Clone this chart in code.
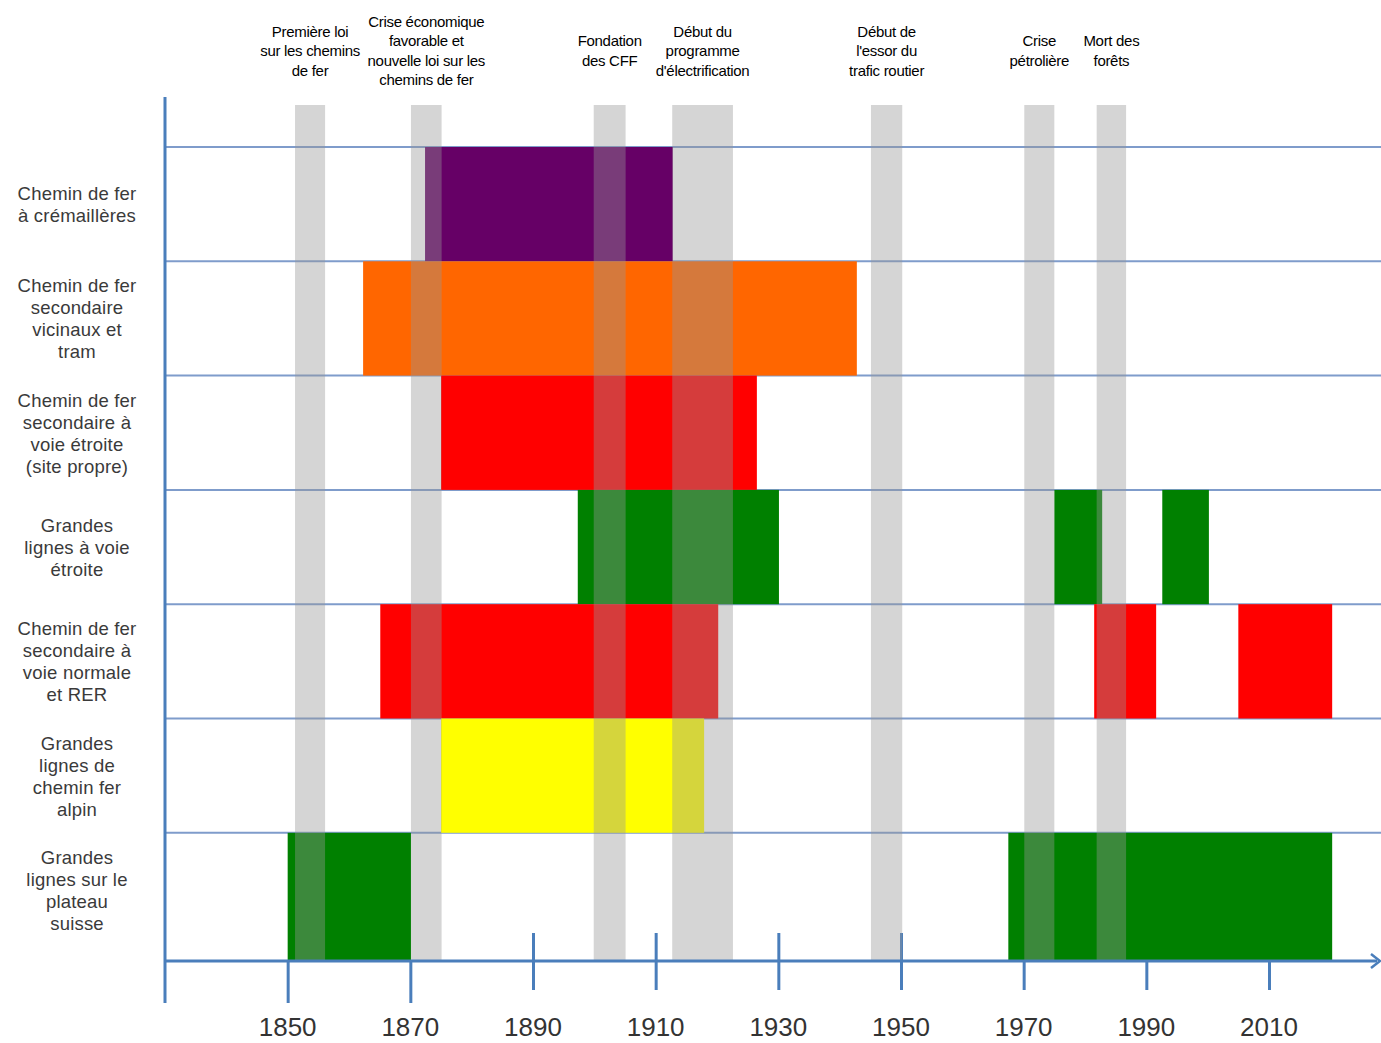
<!DOCTYPE html>
<html>
<head>
<meta charset="utf-8">
<script src="https://cdn.jsdelivr.net/npm/d3@7"></script>
<style>
  body { margin: 0; background: #fff; }
  svg { display: block; }
</style>
</head>
<body>
<div id="chart"></div>
<script>
// rows (top to bottom) and their colour
const rowLabels = [
  ['Chemin de fer', 'à crémaillères'],
  ['Chemin de fer', 'secondaire', 'vicinaux et', 'tram'],
  ['Chemin de fer', 'secondaire à', 'voie étroite', '(site propre)'],
  ['Grandes', 'lignes à voie', 'étroite'],
  ['Chemin de fer', 'secondaire à', 'voie normale', 'et RER'],
  ['Grandes', 'lignes de', 'chemin  fer', 'alpin'],
  ['Grandes', 'lignes sur le', 'plateau', 'suisse']
]
const rowColors = ['#660066', '#ff6600', '#ff0000', '#008000', '#ff0000', '#ffff00', '#008000']

// periods of activity: row index, start year, end year
const periodRow = [0, 1, 2, 3, 3, 3, 4, 4, 4, 5, 6, 6]
const periodStart = [1872.4, 1862.3, 1875.0, 1897.3, 1975.0, 1992.6, 1865.1, 1981.5, 2005.0, 1875.0, 1850.0, 1967.5]
const periodEnd = [1912.8, 1942.8, 1926.5, 1930.1, 1982.8, 2000.2, 1920.2, 1991.6, 2020.3, 1917.9, 1870.1, 2020.3]

// events (grey bands)
const eventLabels = [
  ['Première loi', 'sur les chemins', 'de fer'],
  ['Crise économique', 'favorable et', 'nouvelle loi sur les', 'chemins de fer'],
  ['Fondation', 'des CFF'],
  ['Début du', 'programme', "d'électrification"],
  ['Début de', "l'essor du", 'trafic routier'],
  ['Crise', 'pétrolière'],
  ['Mort des', 'forêts']
]
const eventStart = [1851.2, 1870.1, 1899.9, 1912.7, 1945.1, 1970.1, 1981.9]
const eventEnd = [1856.1, 1875.1, 1905.1, 1922.6, 1950.2, 1975.0, 1986.7]

// x axis ticks
const longTicks = [1850, 1870]
const shortTicks = [1890, 1910, 1930, 1950, 1970, 1990, 2010]

const width = 1381
const height = 1043
const axisColor = '#4a7ebb'

const svg = d3
  .select('#chart')
  .append('svg')
  .attr('width', width)
  .attr('height', height)

const xPositionScale = d3
  .scaleLinear()
  .domain([1830, 2010])
  .range([165, 1269])

const axisY = 961
const yPositionScale = d3
  .scaleBand()
  .domain(d3.range(rowLabels.length))
  .range([147, 147 + 7 * 114.3])

function rowTop(i) {
  return yPositionScale(i)
}
function rowBottom(i) {
  return i === rowLabels.length - 1 ? axisY : yPositionScale(i) + yPositionScale.bandwidth()
}

// horizontal row lines
svg
  .selectAll('.row-line')
  .data(d3.range(rowLabels.length))
  .enter()
  .append('line')
  .attr('class', 'row-line')
  .attr('x1', xPositionScale(1830))
  .attr('x2', width)
  .attr('y1', d => rowTop(d))
  .attr('y2', d => rowTop(d))
  .attr('stroke', '#7f9ccb')
  .attr('stroke-width', 2)

// ticks (drawn under the bars)
const longAxis = d3
  .axisBottom(xPositionScale)
  .tickValues(longTicks)
  .tickSize(42)
  .tickFormat('')
svg
  .append('g')
  .attr('class', 'axis long-ticks')
  .attr('transform', 'translate(0,' + axisY + ')')
  .call(longAxis)

const shortAxis = d3
  .axisBottom(xPositionScale)
  .tickValues(shortTicks)
  .tickSize(29)
  .tickFormat('')
svg
  .append('g')
  .attr('class', 'axis short-ticks')
  .attr('transform', 'translate(0,' + axisY + ')')
  .call(shortAxis)
svg.selectAll('.short-ticks line').attr('y1', -28)

svg.selectAll('.axis path').remove()
svg
  .selectAll('.axis line')
  .attr('stroke', axisColor)
  .attr('stroke-width', 3)

// bars
svg
  .selectAll('.period')
  .data(d3.range(periodRow.length))
  .enter()
  .append('rect')
  .attr('class', 'period')
  .attr('x', i => xPositionScale(periodStart[i]))
  .attr('width', i => xPositionScale(periodEnd[i]) - xPositionScale(periodStart[i]))
  .attr('y', i => rowTop(periodRow[i]))
  .attr('height', i => rowBottom(periodRow[i]) - rowTop(periodRow[i]))
  .attr('fill', i => rowColors[periodRow[i]])

// grey event bands on top
svg
  .selectAll('.event')
  .data(d3.range(eventStart.length))
  .enter()
  .append('rect')
  .attr('class', 'event')
  .attr('x', i => xPositionScale(eventStart[i]))
  .attr('width', i => xPositionScale(eventEnd[i]) - xPositionScale(eventStart[i]))
  .attr('y', 105)
  .attr('height', axisY - 105)
  .attr('fill', '#969696')
  .attr('fill-opacity', 0.4)

// event labels
const eventText = svg
  .selectAll('.event-label')
  .data(d3.range(eventLabels.length))
  .enter()
  .append('text')
  .attr('class', 'event-label')
  .attr('text-anchor', 'middle')
  .attr('font-family', 'Liberation Sans, Arial, sans-serif')
  .attr('font-size', 15)
  .attr('letter-spacing', -0.3)
  .attr('fill', '#000')
  .attr('transform', i => {
    const n = eventLabels[i].length
    const cx = xPositionScale((eventStart[i] + eventEnd[i]) / 2)
    return 'translate(' + cx + ',' + (51 - ((n - 1) * 19.5) / 2 + 5) + ')'
  })
eventText
  .selectAll('tspan')
  .data(i => eventLabels[i])
  .enter()
  .append('tspan')
  .attr('x', 0)
  .attr('dy', (d, j) => (j === 0 ? 0 : 19.5))
  .text(d => d)

// row labels on the left
const rowText = svg
  .selectAll('.row-label')
  .data(d3.range(rowLabels.length))
  .enter()
  .append('text')
  .attr('class', 'row-label')
  .attr('text-anchor', 'middle')
  .attr('font-family', 'Liberation Sans, Arial, sans-serif')
  .attr('font-size', 18.5)
  .attr('letter-spacing', 0.2)
  .attr('fill', '#3a3a3a')
  .attr('transform', i => {
    const n = rowLabels[i].length
    const cy = (rowTop(i) + yPositionScale(i) + yPositionScale.bandwidth()) / 2
    return 'translate(77,' + (cy - ((n - 1) * 22) / 2 + 7) + ')'
  })
rowText
  .selectAll('tspan')
  .data(i => rowLabels[i])
  .enter()
  .append('tspan')
  .attr('x', 0)
  .attr('dy', (d, j) => (j === 0 ? 0 : 22))
  .text(d => d)

// axis lines
svg
  .append('line')
  .attr('x1', xPositionScale(1830))
  .attr('x2', xPositionScale(1830))
  .attr('y1', 97)
  .attr('y2', 1003)
  .attr('stroke', axisColor)
  .attr('stroke-width', 3)

svg
  .append('line')
  .attr('x1', xPositionScale(1830))
  .attr('x2', width - 4)
  .attr('y1', axisY)
  .attr('y2', axisY)
  .attr('stroke', axisColor)
  .attr('stroke-width', 3)

svg
  .append('path')
  .attr('d', 'M' + (width - 10) + ',' + (axisY - 7) + 'L' + (width - 1) + ',' + axisY + 'L' + (width - 10) + ',' + (axisY + 7))
  .attr('fill', 'none')
  .attr('stroke', axisColor)
  .attr('stroke-width', 2.5)

// year labels
svg
  .selectAll('.year-label')
  .data(longTicks.concat(shortTicks))
  .enter()
  .append('text')
  .attr('class', 'year-label')
  .attr('x', d => xPositionScale(d))
  .attr('y', 1036)
  .attr('text-anchor', 'middle')
  .attr('font-family', 'Liberation Sans, Arial, sans-serif')
  .attr('font-size', 26)
  .attr('fill', '#333')
  .text(d => d)
</script>
</body>
</html>
